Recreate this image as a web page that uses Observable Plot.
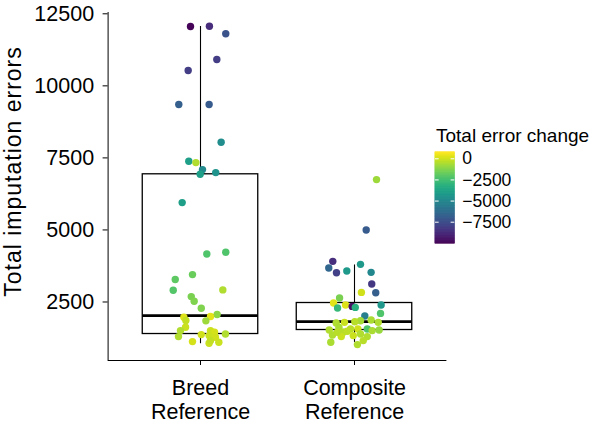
<!DOCTYPE html>
<html>
<head>
<meta charset="utf-8">
<script src="https://cdn.jsdelivr.net/npm/d3@7"></script>
<script src="https://cdn.jsdelivr.net/npm/@observablehq/plot@0.6"></script>
<style>
  html, body { margin: 0; padding: 0; background: #fff; }
  #wrap { position: relative; width: 598px; height: 424px; font-family: "Liberation Sans", Arial, sans-serif; }
  #main { position: absolute; left: 0; top: 0; }
  #legend { position: absolute; left: 420px; top: 120px; }
  #legtitle { position: absolute; left: 436px; top: 125.6px; font-size: 19px; line-height: 1; white-space: nowrap; color: #000; }
  #main g[aria-label="text"] text { letter-spacing: 1px; }
</style>
</head>
<body>
<div id="wrap">
  <div id="main"></div>
  <div id="legtitle">Total error change</div>
  <div id="legend"></div>
</div>
<script>
// ---- data ----
const groups = ["Breed\nReference", "Composite\nReference"];
const yTicks = [2500, 5000, 7500, 10000, 12500];
const legendTicks = [0, -2500, -5000, -7500];
const colorDomain = [-10055, 781];
const yDomain = [470, 12545];

// Breed Reference: jitter (category units), total errors, total error change
const breedJitter = [-0.065, 0.058, 0.164, 0.106, -0.080, -0.141, 0.056, 0.134, -0.076, -0.030, 0.013, 0.099, -0.002,
  -0.119, 0.041, 0.164, -0.052, -0.164, -0.177, 0.145, -0.060, -0.041, 0.005, 0.108, 0.065, -0.108, -0.095, 0.035,
  -0.097, -0.130, 0.065, 0.091, -0.143, 0.005, 0.056, 0.097, 0.162, -0.052, 0.056, 0.119, 0.065];
const breedErrors = [12059, 12070, 11806, 10913, 10531, 9351, 9351, 8043, 7385, 7337, 7094, 6990, 6931,
  5948, 4167, 4225, 3451, 3278, 2906, 2920, 2688, 2526, 2283, 2064, 1995, 1972, 1857, 1846,
  1622, 1507, 1507, 1448, 1299, 1368, 1334, 1276, 1392, 1125, 1066, 1101, 1160];
const breedChange = [-9950, -8700, -7300, -8100, -8100, -6800, -7000, -4800, -4000, -500, -4900, -4500, -4000,
  -4000, -2200, -2200, -1700, -1900, -2100, -500, -1400, -1300, -1300, -1100, 300, 200, -200, -800,
  -100, -500, -100, 100, -500, 0, -100, 0, -500, 100, -100, -100, -200];

// Composite Reference
const compJitter = [0.143, 0.076, -0.141, -0.167, -0.117, -0.050, 0.039, 0.108, 0.112, 0.138, 0.045, -0.097, -0.136,
  -0.110, -0.058, -0.015, 0.005, 0.173, 0.169, 0.067, 0.039, -0.119, -0.065, 0.002, 0.108, 0.154,
  -0.164, -0.101, -0.073, -0.026, 0.022, 0.083, 0.115, 0.160, -0.143, -0.086, -0.008, 0.039, 0.083,
  0.057, -0.154, 0.019, -0.047, -0.112];
const compErrors = [6747, 5000, 3910, 3681, 3517, 3576, 3806, 3528, 3125, 2823, 2833, 2639, 2465,
  2292, 2396, 2347, 2313, 2396, 2105, 2014, 1851, 1771, 1793, 1816, 1875, 1793,
  1528, 1620, 1448, 1563, 1563, 1563, 1507, 1528, 1354, 1299, 1334, 1392, 1299,
  1160, 1101, 1021, 1484, 1450];
const compChange = [-800, -7000, -8600, -6500, -8000, -4200, -4200, -5000, -8300, -6800, 0, -1400, 300,
  -2800, 200, -9700, -3200, -4300, -2200, -5400, -700, -500, -100, -400, -600, -500,
  -500, -600, -400, -400, 0, -2200, -600, -900, -500, -100, -100, -500, -500,
  -400, -600, -500, -300, -400];

// Box plot statistics
const boxWhiskerLo = [1052, 1097];
const boxQ1 = [1389, 1528];
const boxMedian = [2024, 1816];
const boxQ3 = [6931, 2465];
const boxWhiskerHi = [12059, 3785];

// ---- build tables ----
const points = [
  ...breedErrors.map((v, i) => ({g: 1, jitter: breedJitter[i], errors: v, change: breedChange[i]})),
  ...compErrors.map((v, i) => ({g: 2, jitter: compJitter[i], errors: v, change: compChange[i]}))
];
const boxes = groups.map((name, i) => ({
  g: i + 1, lo: boxWhiskerLo[i], q1: boxQ1[i], med: boxMedian[i], q3: boxQ3[i], hi: boxWhiskerHi[i]
}));
const halfBox = 0.375;
const font = "Liberation Sans, Arial, sans-serif";
const fmt = d3.format("d");

const colorScale = {type: "linear", scheme: "viridis", domain: colorDomain};

const main = Plot.plot({
  width: 598,
  height: 424,
  marginLeft: 107.6,
  marginRight: 151.6,
  marginTop: 12,
  marginBottom: 64,
  style: {fontFamily: font, color: "#000", background: "#fff"},
  x: {domain: [0.4, 2.6]},
  y: {domain: yDomain},
  color: colorScale,
  marks: [
    Plot.ruleX([0.4], {stroke: "#000", strokeWidth: 1}),
    Plot.ruleY([yDomain[0]], {stroke: "#000", strokeWidth: 1}),
    Plot.axisY(yTicks, {tickSize: 5, tickPadding: 9, fontSize: 21.5, label: null, tickFormat: fmt, stroke: "#000", fill: "#000"}),
    Plot.axisX([1, 2], {tickSize: 5, tickPadding: 13, fontSize: 21.5, lineHeight: 1.1, label: null,
      tickFormat: d => groups[d - 1], stroke: "#000", fill: "#000"}),
    Plot.text(["Total imputation errors"], {frameAnchor: "left", textAnchor: "middle", rotate: -90, dx: -94, dy: -15, fontSize: 23, fill: "#000"}),
    // whiskers
    Plot.ruleX(boxes, {x: "g", y1: "q3", y2: "hi", stroke: "#000", strokeWidth: 1.1}),
    Plot.ruleX(boxes, {x: "g", y1: "lo", y2: "q1", stroke: "#000", strokeWidth: 1.1}),
    // box
    Plot.rect(boxes, {x1: d => d.g - halfBox, x2: d => d.g + halfBox, y1: "q1", y2: "q3",
      fill: "#fff", stroke: "#000", strokeWidth: 1.3}),
    Plot.ruleY(boxes, {y: "med", x1: d => d.g - halfBox, x2: d => d.g + halfBox, stroke: "#000", strokeWidth: 2.8}),
    // jittered points
    Plot.dot(points, {x: d => d.g + d.jitter, y: "errors", fill: "change", r: 3.7, stroke: null})
  ]
});
document.getElementById("main").appendChild(main);

// ---- vertical colour bar legend ----
const step = 50;
const bins = d3.range(colorDomain[0], colorDomain[1], step);
const legend = Plot.plot({
  width: 178,
  height: 130,
  margin: 0,
  style: {fontFamily: font, color: "#000", background: "transparent", overflow: "visible"},
  x: {domain: [0, 1], range: [15, 34.3], axis: null},
  y: {domain: colorDomain, range: [123.3, 31.7], axis: null},
  color: colorScale,
  marks: [
    Plot.rect(bins, {x1: 0, x2: 1, y1: d => d, y2: d => Math.min(d + step, colorDomain[1]), fill: d => d + step / 2, inset: -0.3}),
    Plot.ruleY(legendTicks, {y: d => d, x1: 0, x2: 0.19, stroke: "#fff", strokeWidth: 1}),
    Plot.ruleY(legendTicks, {y: d => d, x1: 0.81, x2: 1, stroke: "#fff", strokeWidth: 1}),
    Plot.text(legendTicks, {x: 1, y: d => d, dx: 7.4, text: d => fmt(d), textAnchor: "start", fontSize: 17.5, fill: "#000"})
  ]
});
document.getElementById("legend").appendChild(legend);
</script>
</body>
</html>
